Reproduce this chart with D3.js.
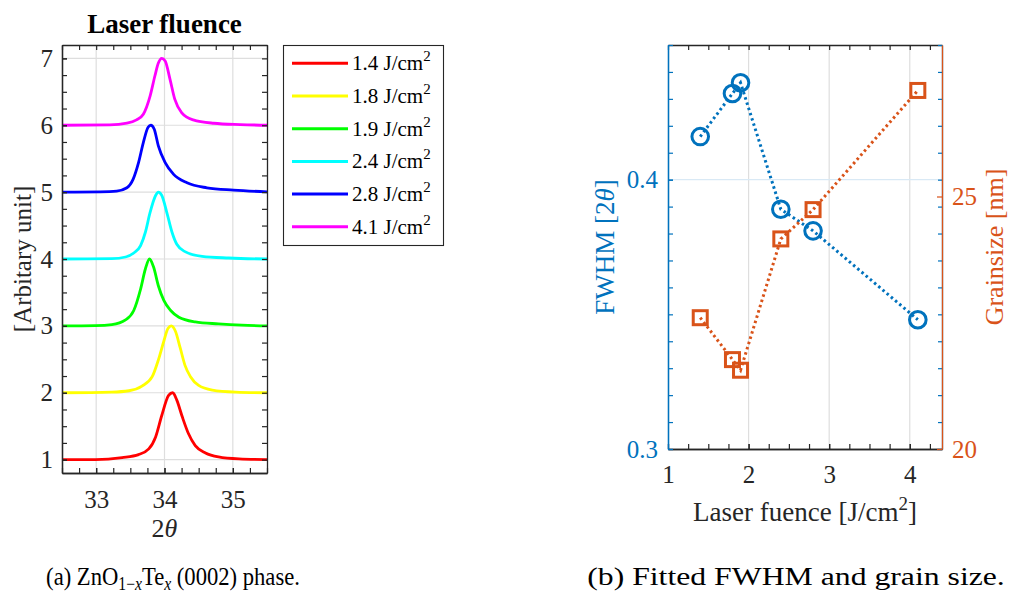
<!DOCTYPE html>
<html><head><meta charset="utf-8">
<script src="https://cdn.jsdelivr.net/npm/d3@7"></script>
<style>
body{margin:0;background:#fff}
svg{display:block}
text{font-family:"Liberation Serif","Times New Roman",serif}
</style>
</head><body>
<svg id="c" width="1011" height="593"></svg>
<script>
// ---------------- data ----------------
const fluenceLabels = ["1.4", "1.8", "1.9", "2.4", "2.8", "4.1"];
const lineColors = ["#ff0000", "#ffff00", "#00ff00", "#00ffff", "#0000ff", "#ff00ff"];

// XRD (0002) peaks, [2theta, offset intensity]
const xrd14 = [[32.5,1.0],[32.99,1.0],[33.38,1.03],[33.62,1.075],[33.77,1.16],[33.87,1.34],[33.96,1.66],[34.06,1.96],[34.12,2.0],[34.18,1.89],[34.26,1.64],[34.35,1.39],[34.45,1.21],[34.60,1.10],[34.79,1.04],[35.09,1.01],[35.5,1.0]];
const xrd18 = [[32.5,2.0],[33.23,2.01],[33.48,2.03],[33.67,2.1],[33.82,2.24],[33.91,2.49],[33.99,2.77],[34.05,2.96],[34.1,3.0],[34.16,2.92],[34.23,2.67],[34.30,2.41],[34.38,2.24],[34.5,2.11],[34.7,2.04],[35.04,2.01],[35.5,2.0]];
const xrd19 = [[32.5,3.0],[32.99,3.005],[33.23,3.02],[33.43,3.09],[33.55,3.23],[33.65,3.55],[33.72,3.85],[33.78,4.0],[33.84,3.88],[33.91,3.6],[33.99,3.38],[34.09,3.23],[34.21,3.13],[34.45,3.06],[34.79,3.03],[35.13,3.01],[35.5,3.0]];
const xrd24 = [[32.5,4.0],[33.23,4.005],[33.43,4.03],[33.55,4.09],[33.65,4.2],[33.72,4.4],[33.79,4.7],[33.87,4.95],[33.91,5.0],[33.96,4.95],[34.04,4.67],[34.11,4.4],[34.18,4.22],[34.3,4.11],[34.55,4.04],[34.94,4.015],[35.5,4.0]];
const xrd28 = [[32.5,5.0],[33.06,5.005],[33.30,5.015],[33.45,5.065],[33.54,5.19],[33.62,5.44],[33.69,5.74],[33.76,5.97],[33.80,6.0],[33.85,5.94],[33.91,5.69],[34.01,5.44],[34.13,5.27],[34.33,5.14],[34.62,5.065],[35.01,5.03],[35.5,5.005]];
const xrd41 = [[32.5,6.0],[33.20,6.005],[33.45,6.03],[33.59,6.08],[33.69,6.165],[33.79,6.44],[33.86,6.74],[33.91,6.93],[33.96,7.0],[34.01,6.96],[34.08,6.69],[34.15,6.39],[34.25,6.19],[34.42,6.08],[34.72,6.03],[35.11,6.01],[35.5,6.0]];

// fitted results
const fluence = [1.4, 1.8, 1.9, 2.4, 2.8, 4.1];
const fwhm = [0.416, 0.432, 0.436, 0.389, 0.381, 0.348];
const grainSize = [22.6, 21.77, 21.56, 24.16, 24.74, 27.1];

// ticks
const xrdTicksX = [33, 34, 35];
const xrdTicksY = [1, 2, 3, 4, 5, 6, 7];
const fluTicks = [1, 2, 3, 4];
const fwhmTicks = [0.3, 0.4];
const grainTicks = [20, 25];

// ---------------- drawing ----------------
const svg = d3.select("#c");
const AX = "#262626", GRID = "#dedede", BLUE = "#0072BD", ORANGE = "#D95319";
const series = [xrd14, xrd18, xrd19, xrd24, xrd28, xrd41];

function range(a, b, s) { const r = []; for (let v = a; v <= b + 1e-9; v += s) r.push(+v.toFixed(4)); return r; }

// ===== left panel =====
const L = {x0: 62, x1: 267, y0: 45, y1: 473};
const sx = d3.scaleLinear().domain([32.5, 35.5]).range([L.x0, L.x1]);
const sy = d3.scaleLinear().domain([0.8, 7.2]).range([L.y1, L.y0]);
const gl = svg.append("g");

// grid
gl.append("g").selectAll("line").data(xrdTicksX).join("line")
  .attr("x1", d => sx(d)).attr("x2", d => sx(d)).attr("y1", L.y0).attr("y2", L.y1)
  .attr("stroke", GRID).attr("stroke-width", 1.2);
gl.append("g").selectAll("line").data(xrdTicksY).join("line")
  .attr("y1", d => sy(d)).attr("y2", d => sy(d)).attr("x1", L.x0).attr("x2", L.x1)
  .attr("stroke", GRID).attr("stroke-width", 1.2);

// curves
const line = d3.line().x(d => sx(d[0])).y(d => sy(d[1])).curve(d3.curveMonotoneX);
gl.append("g").selectAll("path").data(series).join("path")
  .attr("d", line).attr("fill", "none")
  .attr("stroke", (d, i) => lineColors[i]).attr("stroke-width", 2.8)
  .attr("stroke-linejoin", "round");

// axes
function styleAxis(g, color, size) {
  g.attr("font-family", null).attr("font-size", null);
  g.selectAll("path.domain").attr("stroke", color).attr("stroke-width", 1.3);
  g.selectAll(".tick line").attr("stroke", color).attr("stroke-width", 1.2);
  g.selectAll(".tick text").attr("fill", color).attr("font-size", size);
}
const minX = range(32.5, 35.5, 0.25), minY = range(1, 7, 0.25);
gl.append("g").attr("transform", `translate(0,${L.y1})`)
  .call(d3.axisBottom(sx).tickValues(minX).tickFormat("").tickSizeInner(-5).tickSizeOuter(0))
  .call(g => styleAxis(g, AX, 25));
gl.append("g").attr("transform", `translate(0,${L.y1})`)
  .call(d3.axisBottom(sx).tickValues(xrdTicksX).tickFormat(d3.format("d")).tickSizeInner(-5).tickSizeOuter(0).tickPadding(17))
  .call(g => styleAxis(g, AX, 25));
gl.append("g").attr("transform", `translate(0,${L.y0})`)
  .call(d3.axisTop(sx).tickValues(minX).tickFormat("").tickSizeInner(-5).tickSizeOuter(0))
  .call(g => styleAxis(g, AX, 25));
gl.append("g").attr("transform", `translate(${L.x0},0)`)
  .call(d3.axisLeft(sy).tickValues(minY).tickFormat("").tickSizeInner(-5).tickSizeOuter(0))
  .call(g => styleAxis(g, AX, 25));
gl.append("g").attr("transform", `translate(${L.x0},0)`)
  .call(d3.axisLeft(sy).tickValues(xrdTicksY).tickFormat(d3.format("d")).tickSizeInner(-5).tickSizeOuter(0).tickPadding(9))
  .call(g => styleAxis(g, AX, 25));
gl.append("g").attr("transform", `translate(${L.x1},0)`)
  .call(d3.axisRight(sy).tickValues(minY).tickFormat("").tickSizeInner(-5).tickSizeOuter(0))
  .call(g => styleAxis(g, AX, 25));

// title & labels
gl.append("text").attr("x", (L.x0 + L.x1) / 2).attr("y", 33).attr("text-anchor", "middle")
  .attr("font-size", 27).attr("font-weight", "bold").attr("fill", "#000").text("Laser fluence");
const xl = gl.append("text").attr("x", (L.x0 + L.x1) / 2).attr("y", 537).attr("text-anchor", "middle")
  .attr("font-size", 26).attr("fill", AX);
xl.append("tspan").text("2");
xl.append("tspan").attr("font-style", "italic").text("θ");
gl.append("text").attr("transform", `translate(31,${(L.y0 + L.y1) / 2}) rotate(-90)`)
  .attr("text-anchor", "middle").attr("font-size", 25).attr("fill", AX).text("[Arbitary unit]");

// legend
const lg = svg.append("g");
lg.append("rect").attr("x", 283.5).attr("y", 45.5).attr("width", 160).attr("height", 200)
  .attr("fill", "#fff").attr("stroke", AX).attr("stroke-width", 1.1);
const ent = lg.selectAll("g.e").data(fluenceLabels).join("g").attr("class", "e")
  .attr("transform", (d, i) => `translate(0,${63.3 + i * 32.7})`);
ent.append("line").attr("x1", 292).attr("x2", 348).attr("y1", 0).attr("y2", 0)
  .attr("stroke", (d, i) => lineColors[i]).attr("stroke-width", 3);
const et = ent.append("text").attr("x", 352).attr("y", 7).attr("font-size", 21).attr("fill", "#000");
et.append("tspan").text(d => d + " J/cm");
et.append("tspan").attr("font-size", 15).attr("dy", -9).text("2");

// ===== right panel =====
const R = {x0: 668, x1: 942, y0: 45, y1: 449};
const rx = d3.scaleLinear().domain([1, 4.4]).range([R.x0, R.x1]);
const ryL = d3.scaleLinear().domain([0.3, 0.45]).range([R.y1, R.y0]);
const ryR = d3.scaleLinear().domain([20, 28]).range([R.y1, R.y0]);
const gr = svg.append("g");

gr.append("g").selectAll("line").data(fluTicks.slice(1)).join("line")
  .attr("x1", d => rx(d)).attr("x2", d => rx(d)).attr("y1", R.y0).attr("y2", R.y1)
  .attr("stroke", GRID).attr("stroke-width", 1.2);
gr.append("line").attr("x1", R.x0).attr("x2", R.x1).attr("y1", ryL(0.4)).attr("y2", ryL(0.4))
  .attr("stroke", "#d9e9f5").attr("stroke-width", 1.4);

const minF = range(1, 4.25, 0.25), minW = range(0.3, 0.45, 0.01);
gr.append("g").attr("transform", `translate(0,${R.y1})`)
  .call(d3.axisBottom(rx).tickValues(minF).tickFormat("").tickSizeInner(-5).tickSizeOuter(0))
  .call(g => styleAxis(g, AX, 25));
gr.append("g").attr("transform", `translate(0,${R.y1})`)
  .call(d3.axisBottom(rx).tickValues(fluTicks).tickFormat(d3.format("d")).tickSizeInner(-5).tickSizeOuter(0).tickPadding(16))
  .call(g => styleAxis(g, AX, 25));
gr.append("g").attr("transform", `translate(0,${R.y0})`)
  .call(d3.axisTop(rx).tickValues(minF).tickFormat("").tickSizeInner(-5).tickSizeOuter(0))
  .call(g => styleAxis(g, AX, 25));
// right side mirrored minor ticks of the left axis
gr.append("g").attr("transform", `translate(${R.x1},0)`)
  .call(d3.axisRight(ryL).tickValues(minW).tickFormat("").tickSizeInner(-4).tickSizeOuter(0))
  .call(g => styleAxis(g, BLUE, 25));
gr.append("g").attr("transform", `translate(${R.x1},0)`)
  .call(d3.axisRight(ryR).tickValues(grainTicks).tickFormat(d3.format("d")).tickSizeInner(-5).tickSizeOuter(0).tickPadding(10))
  .call(g => styleAxis(g, ORANGE, 25));
gr.append("g").attr("transform", `translate(${R.x0},0)`)
  .call(d3.axisLeft(ryL).tickValues(minW).tickFormat("").tickSizeInner(-5).tickSizeOuter(0))
  .call(g => styleAxis(g, BLUE, 25));
gr.append("g").attr("transform", `translate(${R.x0},0)`)
  .call(d3.axisLeft(ryL).tickValues(fwhmTicks).tickFormat(d3.format(".1f")).tickSizeInner(-5).tickSizeOuter(0).tickPadding(10))
  .call(g => styleAxis(g, BLUE, 25));

// FWHM series
const fw = fluence.map((f, i) => [f, fwhm[i]]);
const gs = fluence.map((f, i) => [f, grainSize[i]]);
gr.append("path").datum(fw).attr("fill", "none").attr("stroke", BLUE).attr("stroke-width", 3)
  .attr("stroke-dasharray", "2.5,3")
  .attr("d", d3.line().x(d => rx(d[0])).y(d => ryL(d[1])));
gr.append("g").selectAll("circle").data(fw).join("circle")
  .attr("cx", d => rx(d[0])).attr("cy", d => ryL(d[1])).attr("r", 8.3)
  .attr("fill", "none").attr("stroke", BLUE).attr("stroke-width", 3);

// grain size series
gr.append("path").datum(gs).attr("fill", "none").attr("stroke", ORANGE).attr("stroke-width", 3)
  .attr("stroke-dasharray", "2.5,3")
  .attr("d", d3.line().x(d => rx(d[0])).y(d => ryR(d[1])));
gr.append("g").selectAll("rect").data(gs).join("rect")
  .attr("x", d => rx(d[0]) - 7).attr("y", d => ryR(d[1]) - 7).attr("width", 14).attr("height", 14)
  .attr("fill", "none").attr("stroke", ORANGE).attr("stroke-width", 3);

// labels
const rxl = gr.append("text").attr("x", (R.x0 + R.x1) / 2).attr("y", 521).attr("text-anchor", "middle")
  .attr("font-size", 27).attr("fill", AX);
rxl.append("tspan").text("Laser fuence [J/cm");
rxl.append("tspan").attr("font-size", 19).attr("dy", -11).text("2");
rxl.append("tspan").attr("dy", 11).text("]");
const ylb = gr.append("text").attr("transform", `translate(614,${(R.y0 + R.y1) / 2}) rotate(-90)`)
  .attr("text-anchor", "middle").attr("font-size", 27).attr("fill", BLUE);
ylb.append("tspan").text("FWHM [2");
ylb.append("tspan").attr("font-style", "italic").text("θ");
ylb.append("tspan").text("]");
gr.append("text").attr("transform", `translate(1003,${(R.y0 + R.y1) / 2}) rotate(-90)`)
  .attr("text-anchor", "middle").attr("font-size", 26).attr("fill", ORANGE).text("Grainsize [nm]");

// ===== captions =====
const capA = svg.append("text").attr("transform", "translate(173,585) scale(0.87,1)")
  .attr("text-anchor", "middle").attr("font-size", 26).attr("fill", "#000");
capA.append("tspan").text("(a) ZnO");
capA.append("tspan").attr("font-size", 18).attr("dy", 5).text("1−");
capA.append("tspan").attr("font-size", 18).attr("font-style", "italic").text("x");
capA.append("tspan").attr("dy", -5).text("Te");
capA.append("tspan").attr("font-size", 18).attr("dy", 5).attr("font-style", "italic").text("x");
capA.append("tspan").attr("dy", -5).text(" (0002) phase.");
svg.append("text").attr("transform", "translate(796,585) scale(1.22,1)")
  .attr("text-anchor", "middle").attr("font-size", 26).attr("fill", "#000").text("(b) Fitted FWHM and grain size.");
</script>
</body></html>
